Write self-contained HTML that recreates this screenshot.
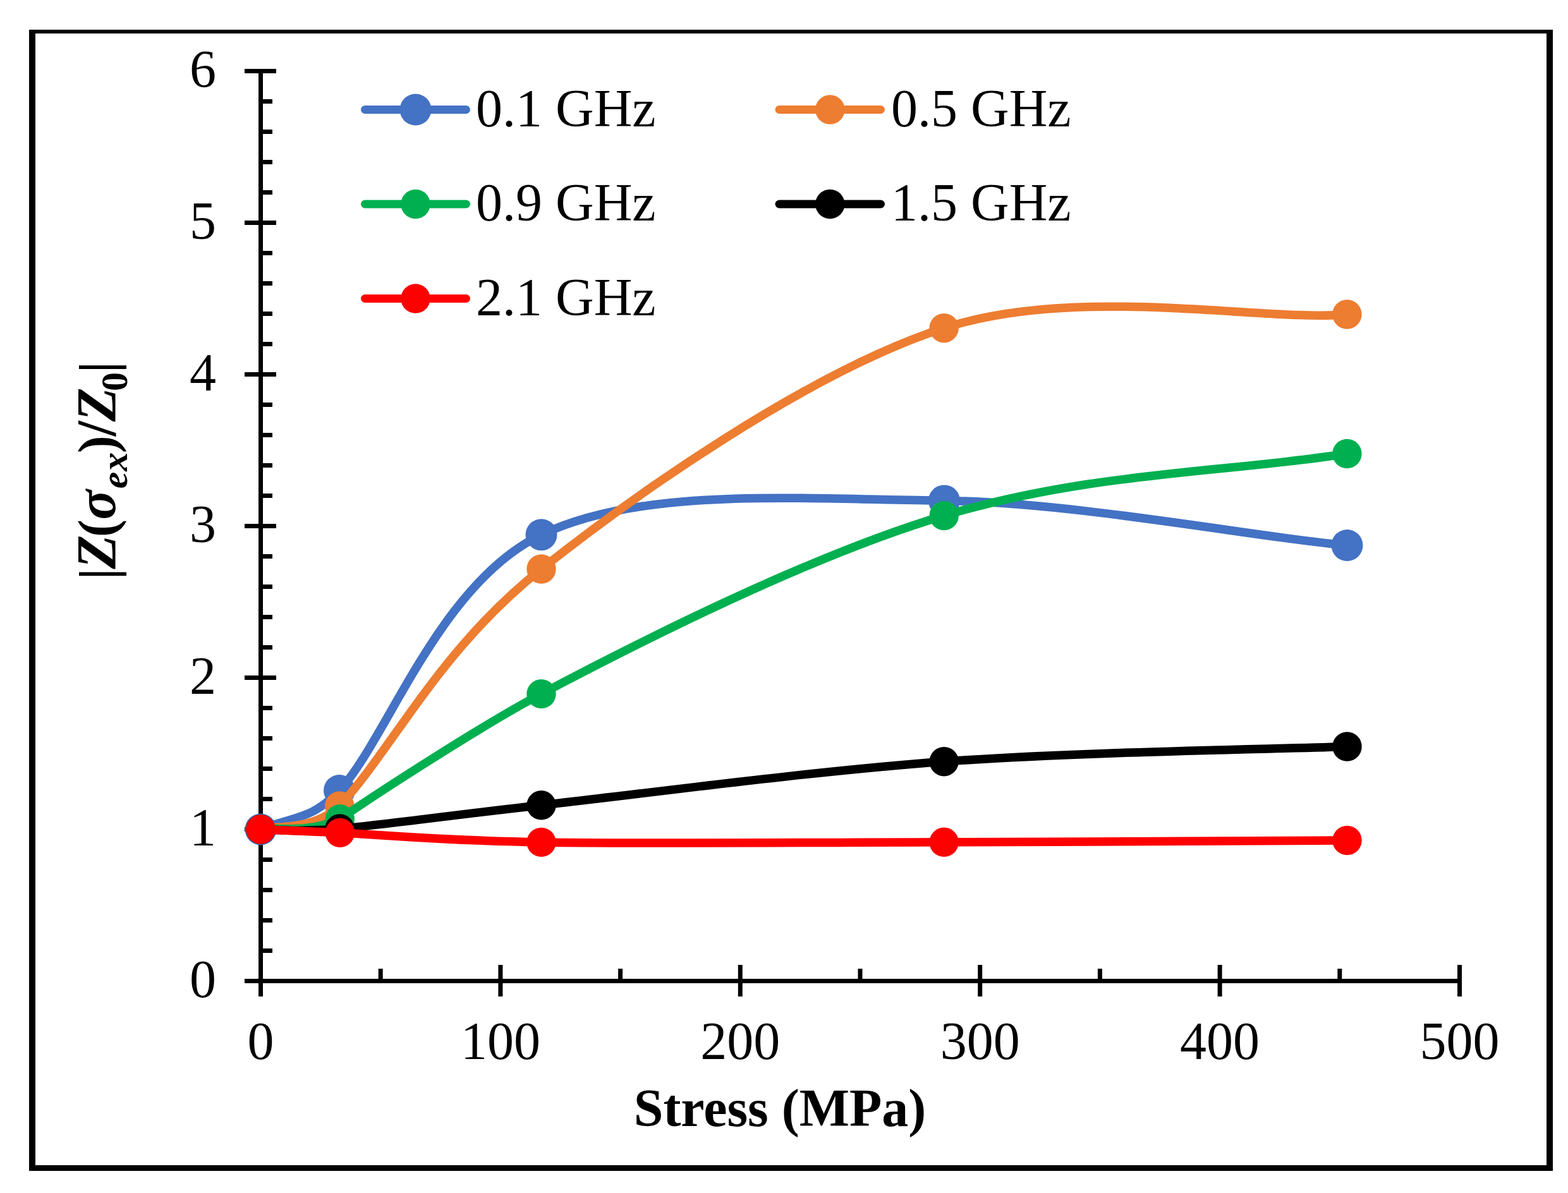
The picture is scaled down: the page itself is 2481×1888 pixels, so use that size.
<!DOCTYPE html>
<html><head><meta charset="utf-8"><title>chart</title><style>html,body{margin:0;padding:0;background:#fff;width:2481px;height:1888px;overflow:hidden}svg{display:block}text{font-family:"Liberation Serif","Times New Roman",serif}</style></head><body>
<svg width="2481" height="1888" viewBox="0 0 2481 1888">
<rect width="2481" height="1888" fill="#fff"/>
<path d="M46 47H2457V1853H46Z M56 53V1844H2447V53Z" fill="#000" fill-rule="evenodd"/>
<path d="M409 109H416V1577H409Z M387 1549H2313V1556H387Z M387 1549.0h50v7h-50Z M387 1309.0h50v7h-50Z M387 1069.0h50v7h-50Z M387 829.0h50v7h-50Z M387 589.0h50v7h-50Z M387 349.0h50v7h-50Z M387 109.0h50v7h-50Z M412.5 1501.0h18.5v7h-18.5Z M412.5 1453.0h18.5v7h-18.5Z M412.5 1405.0h18.5v7h-18.5Z M412.5 1357.0h18.5v7h-18.5Z M412.5 1261.0h18.5v7h-18.5Z M412.5 1213.0h18.5v7h-18.5Z M412.5 1165.0h18.5v7h-18.5Z M412.5 1117.0h18.5v7h-18.5Z M412.5 1021.0h18.5v7h-18.5Z M412.5 973.0h18.5v7h-18.5Z M412.5 925.0h18.5v7h-18.5Z M412.5 877.0h18.5v7h-18.5Z M412.5 781.0h18.5v7h-18.5Z M412.5 733.0h18.5v7h-18.5Z M412.5 685.0h18.5v7h-18.5Z M412.5 637.0h18.5v7h-18.5Z M412.5 541.0h18.5v7h-18.5Z M412.5 493.0h18.5v7h-18.5Z M412.5 445.0h18.5v7h-18.5Z M412.5 397.0h18.5v7h-18.5Z M412.5 301.0h18.5v7h-18.5Z M412.5 253.0h18.5v7h-18.5Z M412.5 205.0h18.5v7h-18.5Z M412.5 157.0h18.5v7h-18.5Z M409.0 1527h7v50h-7Z M788.4 1527h7v50h-7Z M1167.8 1527h7v50h-7Z M1547.2 1527h7v50h-7Z M1926.6 1527h7v50h-7Z M2306.0 1527h7v50h-7Z M598.7 1533h7v19.5h-7Z M978.1 1533h7v19.5h-7Z M1357.5 1533h7v19.5h-7Z M1736.9 1533h7v19.5h-7Z M2116.3 1533h7v19.5h-7Z" fill="#000"/>
<g font-size="84" fill="#000">
<text x="342" y="1577.5" text-anchor="end">0</text>
<text x="342" y="1337.5" text-anchor="end">1</text>
<text x="342" y="1097.5" text-anchor="end">2</text>
<text x="342" y="857.5" text-anchor="end">3</text>
<text x="342" y="617.5" text-anchor="end">4</text>
<text x="342" y="377.5" text-anchor="end">5</text>
<text x="342" y="137.5" text-anchor="end">6</text>
<text x="412.5" y="1676" text-anchor="middle">0</text>
<text x="791.9" y="1676" text-anchor="middle">100</text>
<text x="1171.3" y="1676" text-anchor="middle">200</text>
<text x="1550.7" y="1676" text-anchor="middle">300</text>
<text x="1930.1" y="1676" text-anchor="middle">400</text>
<text x="2309.5" y="1676" text-anchor="middle">500</text>
</g>
<text x="1234" y="1782" font-size="84" font-weight="bold" text-anchor="middle">Stress (MPa)</text>
<text transform="translate(182 917) rotate(-90)" font-weight="bold"><tspan x="-0.4" y="0" font-size="83">|</tspan><tspan x="16.6" y="0" font-size="88" font-style="italic">Z</tspan><tspan x="66.9" y="0" font-size="84">(</tspan><tspan x="94.5" y="0" font-size="88" font-style="italic">σ</tspan><tspan x="143.7" y="19" font-size="60" font-style="italic">e</tspan><tspan x="171.3" y="19" font-size="60" font-style="italic">x</tspan><tspan x="199.8" y="0" font-size="84">)</tspan><tspan x="226.6" y="0" font-size="88">/</tspan><tspan x="249.8" y="0" font-size="88" font-style="italic">Z</tspan><tspan x="298.0" y="19" font-size="60">0</tspan><tspan x="326.7" y="0" font-size="83">|</tspan></text>
<path d="M577.5 173.5H737.5" stroke="#4472C4" stroke-width="13" stroke-linecap="round" fill="none"/>
<circle cx="657.5" cy="173.5" r="25.0" fill="#4472C4"/>
<text x="753.0" y="200.0" font-size="84">0.1 GHz</text>
<path d="M1233.0 173.5H1393.5" stroke="#ED7D31" stroke-width="13" stroke-linecap="round" fill="none"/>
<circle cx="1313.3" cy="173.5" r="23.2" fill="#ED7D31"/>
<text x="1410.0" y="200.0" font-size="84">0.5 GHz</text>
<path d="M577.5 323.0H737.5" stroke="#00B050" stroke-width="13" stroke-linecap="round" fill="none"/>
<circle cx="657.5" cy="323.0" r="23.2" fill="#00B050"/>
<text x="753.0" y="349.0" font-size="84">0.9 GHz</text>
<path d="M1233.0 323.0H1393.5" stroke="#000000" stroke-width="13" stroke-linecap="round" fill="none"/>
<circle cx="1313.3" cy="323.0" r="23.2" fill="#000000"/>
<text x="1410.0" y="349.0" font-size="84">1.5 GHz</text>
<path d="M577.5 472.5H737.5" stroke="#FF0000" stroke-width="13" stroke-linecap="round" fill="none"/>
<circle cx="657.5" cy="472.5" r="23.2" fill="#FF0000"/>
<text x="753.0" y="499.0" font-size="84">2.1 GHz</text>
<path d="M412.5 1312.0 C474.3 1290.8 495.8 1294.2 537.0 1251.0 C613.0 1169.3 694.8 923.4 856.5 846.3 C1017.6 769.5 1262.0 790.0 1494.0 792.4 C1702.7 794.6 2002.6 852.6 2131.5 863.0" stroke="#4472C4" stroke-width="13.5" stroke-linecap="round" stroke-linejoin="round" fill="none"/>
<circle cx="412.5" cy="1312.5" r="25.0" fill="#4472C4"/>
<circle cx="537.0" cy="1251.0" r="25.0" fill="#4472C4"/>
<circle cx="856.5" cy="846.3" r="25.0" fill="#4472C4"/>
<circle cx="1494.0" cy="792.4" r="25.0" fill="#4472C4"/>
<circle cx="2131.5" cy="863.0" r="25.0" fill="#4472C4"/>
<path d="M412.5 1312.5 C421.0 1305.5 490.3 1319.0 537.3 1275.4 C621.9 1184.2 694.2 1029.3 856.5 900.5 C1001.9 785.1 1277.3 589.5 1493.7 519.2 C1707.2 449.9 2002.0 509.9 2131.4 497.5" stroke="#ED7D31" stroke-width="13.5" stroke-linecap="round" stroke-linejoin="round" fill="none"/>
<circle cx="412.5" cy="1312.5" r="23.2" fill="#ED7D31"/>
<circle cx="537.3" cy="1275.4" r="23.2" fill="#ED7D31"/>
<circle cx="856.5" cy="900.5" r="23.2" fill="#ED7D31"/>
<circle cx="1493.7" cy="519.2" r="23.2" fill="#ED7D31"/>
<circle cx="2131.4" cy="497.5" r="23.2" fill="#ED7D31"/>
<path d="M412.5 1312.5 C422.5 1307.4 484.8 1321.7 537.8 1296.1 C592.1 1258.7 762.9 1147.5 856.5 1098.1 C1040.5 1000.9 1289.4 877.2 1493.7 816.0 C1724.9 746.7 1942.5 747.9 2131.4 718.0" stroke="#00B050" stroke-width="13.5" stroke-linecap="round" stroke-linejoin="round" fill="none"/>
<circle cx="412.5" cy="1312.5" r="23.2" fill="#00B050"/>
<circle cx="537.8" cy="1296.1" r="23.2" fill="#00B050"/>
<circle cx="856.5" cy="1098.1" r="23.2" fill="#00B050"/>
<circle cx="1493.7" cy="816.0" r="23.2" fill="#00B050"/>
<circle cx="2131.4" cy="718.0" r="23.2" fill="#00B050"/>
<path d="M412.5 1312.5 C433.3 1312.3 463.5 1317.8 537.5 1311.4 C611.5 1305.0 697.1 1292.0 856.5 1274.3 C1015.9 1256.6 1281.2 1220.7 1493.7 1205.2 C1706.2 1189.7 2025.2 1185.5 2131.5 1181.5" stroke="#000000" stroke-width="13.5" stroke-linecap="round" stroke-linejoin="round" fill="none"/>
<circle cx="412.5" cy="1312.5" r="23.2" fill="#000000"/>
<circle cx="537.5" cy="1311.4" r="23.2" fill="#000000"/>
<circle cx="856.5" cy="1274.3" r="23.2" fill="#000000"/>
<circle cx="1493.7" cy="1205.2" r="23.2" fill="#000000"/>
<circle cx="2131.5" cy="1181.5" r="23.2" fill="#000000"/>
<path d="M412.5 1312.5 C433.4 1313.4 463.9 1314.5 537.9 1317.9 C611.9 1321.3 697.2 1330.4 856.5 1332.9 C1015.8 1335.4 1281.2 1333.3 1493.7 1332.8 C1706.2 1332.3 2025.2 1330.5 2131.5 1330.0" stroke="#FF0000" stroke-width="13.5" stroke-linecap="round" stroke-linejoin="round" fill="none"/>
<circle cx="412.5" cy="1312.5" r="23.2" fill="#FF0000"/>
<circle cx="537.9" cy="1317.9" r="23.2" fill="#FF0000"/>
<circle cx="856.5" cy="1332.9" r="23.2" fill="#FF0000"/>
<circle cx="1493.7" cy="1332.8" r="23.2" fill="#FF0000"/>
<circle cx="2131.5" cy="1330.0" r="23.2" fill="#FF0000"/>
</svg></body></html>
